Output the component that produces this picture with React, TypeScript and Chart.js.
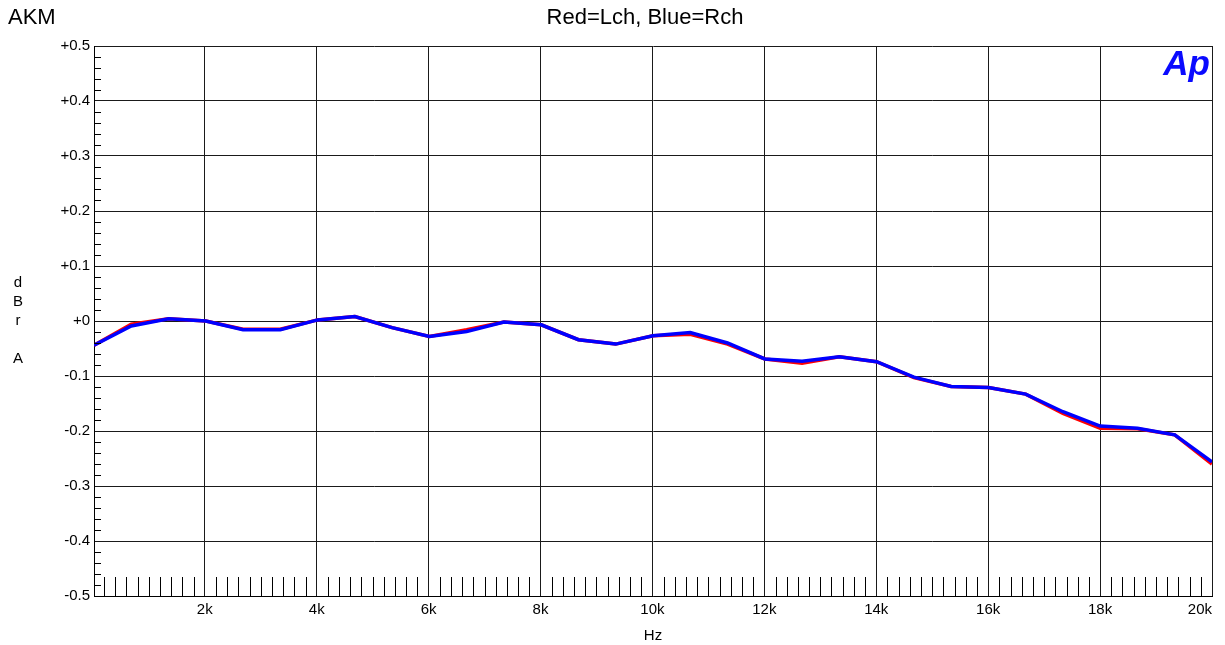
import React, { useEffect, useRef } from 'react';
import { Chart, registerables } from 'chart.js';

Chart.register(...registerables);

const freqHz = [
  20, 686, 1352, 2018, 2684, 3350, 4016, 4682, 5348, 6014, 6680, 7346, 8012, 8678, 9344, 10010,
  10676, 11342, 12008, 12674, 13340, 14006, 14672, 15338, 16004, 16670, 17336, 18002, 18668, 19334, 20000,
];

const rchDb = [
  -0.044, -0.009, 0.004, 0.0, -0.016, -0.016, 0.002, 0.008, -0.012, -0.028, -0.019, -0.002, -0.007,
  -0.034, -0.042, -0.027, -0.021, -0.040, -0.069, -0.073, -0.065, -0.074, -0.102, -0.119, -0.121,
  -0.133, -0.165, -0.191, -0.195, -0.207, -0.256,
];

const lchDb = [
  -0.044, -0.006, 0.004, 0.0, -0.015, -0.015, 0.002, 0.008, -0.012, -0.028, -0.016, -0.002, -0.007,
  -0.034, -0.042, -0.027, -0.024, -0.042, -0.069, -0.077, -0.065, -0.074, -0.103, -0.119, -0.121,
  -0.133, -0.168, -0.195, -0.196, -0.207, -0.260,
];

const xTickValues = [20, 2000, 4000, 6000, 8000, 10000, 12000, 14000, 16000, 18000, 20000];
const xTickLabels = ['', '2k', '4k', '6k', '8k', '10k', '12k', '14k', '16k', '18k', '20k'];
const yTickValues = [-0.5, -0.4, -0.3, -0.2, -0.1, 0, 0.1, 0.2, 0.3, 0.4, 0.5];
const yTickLabels = ['-0.5', '-0.4', '-0.3', '-0.2', '-0.1', '+0', '+0.1', '+0.2', '+0.3', '+0.4', '+0.5'];

const FONT = "'Liberation Sans', Arial, sans-serif";

const decorPlugin = {
  id: 'decor',
  afterDraw(chart: any) {
    const ctx = chart.ctx;
    const area = chart.chartArea;
    const xs = chart.scales.x;
    const ys = chart.scales.y;
    ctx.save();
    ctx.strokeStyle = '#000';
    ctx.lineWidth = 1;
    ctx.beginPath();
    for (let f = 200; f < 20000; f += 200) {
      if (f % 2000 === 0) continue;
      const px = Math.round(xs.getPixelForValue(f)) + 0.5;
      ctx.moveTo(px, area.bottom);
      ctx.lineTo(px, area.bottom - 19);
    }
    for (let k = -24; k <= 24; k++) {
      if (k % 5 === 0) continue;
      const py = Math.round(ys.getPixelForValue(k * 0.02)) + 0.5;
      ctx.moveTo(area.left, py);
      ctx.lineTo(area.left + 7, py);
    }
    ctx.stroke();

    ctx.fillStyle = '#000';
    ctx.textBaseline = 'alphabetic';
    ctx.font = `22px ${FONT}`;
    ctx.textAlign = 'left';
    ctx.fillText('AKM', 8, 24);
    ctx.textAlign = 'center';
    ctx.fillText('Red=Lch, Blue=Rch', 645, 24);

    ctx.font = `15px ${FONT}`;
    ctx.fillText('Hz', 653, 640);
    const letters = ['d', 'B', 'r', '', 'A'];
    letters.forEach((l, i) => {
      if (l) ctx.fillText(l, 18, 287 + i * 19);
    });

    ctx.font = `italic bold 35px ${FONT}`;
    ctx.fillStyle = '#0a0aff';
    ctx.textAlign = 'right';
    ctx.fillText('Ap', area.right - 2, 75);
    ctx.restore();
  },
};

export default function App() {
  const ref = useRef<HTMLCanvasElement | null>(null);
  useEffect(() => {
    if (!ref.current) return;
    const chart = new Chart(ref.current, {
      type: 'line',
      data: {
        datasets: [
          {
            label: 'Rch',
            data: freqHz.map((x, i) => ({ x, y: rchDb[i] })),
            borderColor: '#0000ff',
            borderWidth: 3.5,
            pointRadius: 0,
            tension: 0,
            fill: false,
          },
          {
            label: 'Lch',
            data: freqHz.map((x, i) => ({ x, y: lchDb[i] })),
            borderColor: '#ff0000',
            borderWidth: 3.5,
            pointRadius: 0,
            tension: 0,
            fill: false,
          },
        ],
      },
      options: {
        animation: false,
        responsive: false,
        events: [],
        layout: { padding: { top: 46, right: 13, left: 0, bottom: 0 } },
        plugins: { legend: { display: false }, tooltip: { enabled: false }, title: { display: false } },
        scales: {
          x: {
            type: 'linear',
            min: 20,
            max: 20000,
            afterFit: (s: any) => {
              s.height = 49;
            },
            afterBuildTicks: (s: any) => {
              s.ticks = xTickValues.map((v) => ({ value: v }));
            },
            ticks: {
              autoSkip: false,
              maxRotation: 0,
              minRotation: 0,
              align: 'inner',
              padding: 5,
              color: '#000',
              font: { family: FONT, size: 15 },
              callback: (_v: any, i: number) => xTickLabels[i],
            },
            grid: { color: '#1a1a1a', lineWidth: 1, drawTicks: false },
            border: { display: true, color: '#000', width: 1 },
          },
          y: {
            type: 'linear',
            min: -0.5,
            max: 0.5,
            afterFit: (s: any) => {
              s.width = 94;
            },
            afterBuildTicks: (s: any) => {
              s.ticks = yTickValues.map((v) => ({ value: v }));
            },
            ticks: {
              autoSkip: false,
              padding: 4,
              color: '#000',
              font: { family: FONT, size: 15 },
              callback: (_v: any, i: number) => yTickLabels[i],
            },
            grid: { color: '#1a1a1a', lineWidth: 1, drawTicks: false },
            border: { display: true, color: '#000', width: 1 },
          },
        },
      },
      plugins: [decorPlugin],
    } as any);
    return () => chart.destroy();
  }, []);
  return (
    <div style={{ position: 'absolute', left: 0, top: 0, width: 1225, height: 645, background: '#fff' }}>
      <canvas ref={ref} width={1225} height={645} style={{ display: 'block' }} />
    </div>
  );
}
